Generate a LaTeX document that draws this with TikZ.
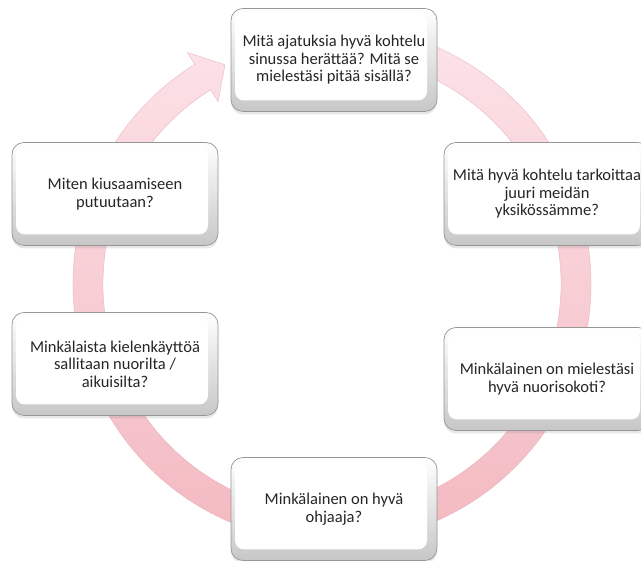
\documentclass[tikz,border=0pt]{standalone}
\usepackage{fontspec}
\setmainfont{Carlito}
\usetikzlibrary{shadows,positioning}
\definecolor{ringtop}{RGB}{252,226,231}
\definecolor{ringbot}{RGB}{243,182,190}
\definecolor{boxline}{RGB}{150,150,150}
\definecolor{boxtext}{RGB}{38,38,38}
\tikzset{
      question/.style = {rectangle, rounded corners=12pt, draw=boxline, line width=0.7pt,
          top color=white, bottom color=black!22, minimum width=206pt, minimum height=103pt,
          align=center, text=boxtext, font=\fontsize{16.5}{17.5}\selectfont,
          drop shadow={opacity=0.18, shadow xshift=0pt, shadow yshift=-3pt},
          path picture={\fill[white, rounded corners=9pt]
              ([shift={(4pt,-4pt)}]path picture bounding box.north west) rectangle
              ([shift={(-10pt,11pt)}]path picture bounding box.south east);}},
      ring/.style = {top color=ringtop, bottom color=ringbot, draw=ringbot!85!gray, line width=0.3pt},
    }

\begin{document}
\begin{tikzpicture}[x=1pt, y=1pt]
        \useasboundingbox (0,0) rectangle (641,561);
        \clip (0,0) rectangle (641,561);
        \coordinate (ctr) at (332,277);

        % circular arrow behind the questions
        \shade[ring] ([shift={(ctr)}]70:259) arc[start angle=70, end angle=-238, radius=259]
            -- ([shift={(ctr)}]122:273) -- ([shift={(ctr)}]116:244)
            -- ([shift={(ctr)}]122:215) -- ([shift={(ctr)}]122:229)
            arc[start angle=122, end angle=430, radius=229] -- cycle;

        \node[question] (q1) at (334,501) {Mitä ajatuksia hyvä kohtelu\\sinussa herättää? Mitä se\\mielestäsi pitää sisällä?};
        \node[question] (q2) at (547,367) {Mitä hyvä kohtelu tarkoittaa\\juuri meidän\\yksikössämme?};
        \node[question] (q3) at (547,182) {Minkälainen on mielestäsi\\hyvä nuorisokoti?};
        \node[question] (q4) at (334,52) {Minkälainen on hyvä\\ohjaaja?};
        \node[question] (q5) at (115,197) {Minkälaista kielenkäyttöä\\sallitaan nuorilta /\\aikuisilta?};
        \node[question] (q6) at (115,367) {Miten kiusaamiseen\\putuutaan?};

        \end{tikzpicture}
\end{document}
